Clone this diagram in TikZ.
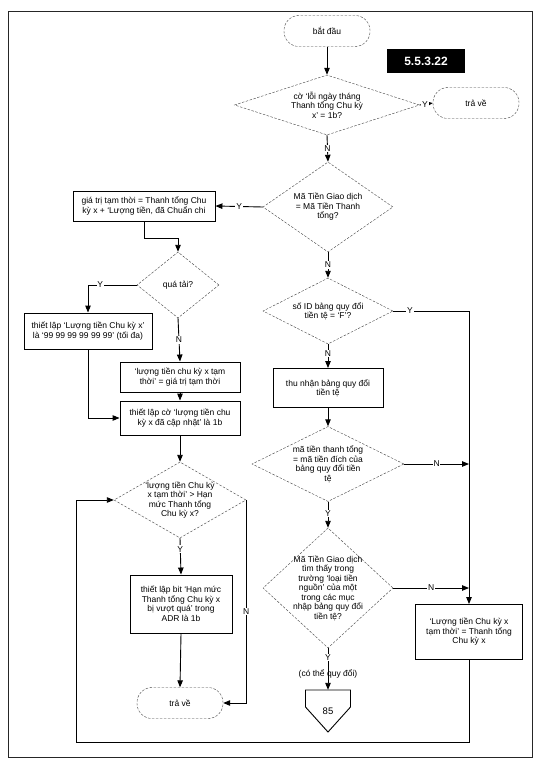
\documentclass[tikz,border=0pt]{standalone}
\usepackage{fontspec}
\setmainfont{Liberation Sans}
\usetikzlibrary{shapes.geometric,arrows.meta}

\tikzset{
  box/.style={draw,line width=0.9pt,rectangle,align=center,inner sep=1pt},
  decision/.style={draw=black!75,thin,dash pattern=on 2.5pt off 1.5pt,diamond,inner sep=0pt},
  dtext/.style={align=center,inner sep=0pt},
  term/.style={draw=black!75,thin,dash pattern=on 2.5pt off 1.5pt,rectangle,
    rounded corners=15pt,minimum width=86pt,minimum height=31pt},
  flow/.style={line width=0.9pt,-{Triangle[length=7pt,width=5.5pt]}},
  lbl/.style={fill=white,inner sep=0.8pt},
}

\begin{document}
\begin{tikzpicture}[x=1pt,y=-1pt,font=\fontsize{8.5}{9.5}\selectfont]
  \useasboundingbox (0,0) rectangle (541,762);
  \draw[line width=1pt,black!85] (8,12) rectangle (532,757);

  % middle column
  \node[term] (start) at (327,31) {bắt đầu};
  \node[fill=black,text=white,font=\bfseries\fontsize{12}{14}\selectfont,
    minimum width=78pt,minimum height=24pt] (tag) at (426,61) {5.5.3.22};
  \node[decision,minimum width=185pt,minimum height=60pt,
    label={[dtext]center:{cờ `lỗi ngày tháng\\Thanh tổng Chu kỳ\\x' = 1b?}}] (chk1) at (327,105) {};
  \node[term] (ret1) at (476,103) {trả về};
  \node[decision,minimum width=130pt,minimum height=90pt,
    label={[dtext]center:{Mã Tiền Giao dịch\\= Mã Tiền Thanh\\tổng?}}] (chk2) at (328,207) {};
  \node[decision,minimum width=130pt,minimum height=66pt,
    label={[dtext]center:{số ID bảng quy đổi\\tiền tệ = `F'?}}] (chkid) at (328,311) {};
  \node[box,minimum width=110pt,minimum height=39pt] (getconv) at (328,388)
    {thu nhận bảng quy đổi\\tiền tệ};
  \node[decision,minimum width=152pt,minimum height=75pt,
    label={[dtext]center:{mã tiền thanh tổng\\= mã tiền đích của\\bảng quy đổi tiền\\tệ}}] (chkdst) at (328,464) {};
  \node[decision,minimum width=130pt,minimum height=120pt,
    label={[dtext]center:{Mã Tiền Giao dịch\\tìm thấy trong\\trường `loại tiền\\nguồn' của một\\trong các mục\\nhập bảng quy đổi\\tiền tệ?}}] (chksrc) at (328,588) {};
  \node[minimum width=45pt,minimum height=42pt,inner sep=0pt] (conn85) at (328,711)
    {\fontsize{9.5}{11}\selectfont 85};
  \draw[line width=0.9pt] (305.5,690) -- (350.5,690) -- (350.5,707) -- (328,732) -- (305.5,707) -- cycle;

  % left column
  \node[box,minimum width=142pt,minimum height=30pt] (tmp) at (144,206)
    {giá trị tạm thời = Thanh tổng Chu\\kỳ x + `Lượng tiền, đã Chuẩn chi};
  \node[decision,minimum width=82pt,minimum height=66pt,
    label={[dtext]center:{quá tải?}}] (over) at (178,285) {};
  \node[box,minimum width=128pt,minimum height=36pt] (setmax) at (88,331)
    {thiết lập `Lượng tiền Chu kỳ x'\\là `99 99 99 99 99 99' (tối đa)};
  \node[box,minimum width=120pt,minimum height=30pt] (settmp) at (180,377)
    {`lượng tiền chu kỳ x tạm\\thời' = giá trị tạm thời};
  \node[box,minimum width=120pt,minimum height=34pt] (setflag) at (180,418)
    {thiết lập cờ `lượng tiền chu\\kỳ x đã cập nhật' là 1b};
  \node[decision,minimum width=132pt,minimum height=76pt,
    label={[dtext]center:{`lượng tiền Chu kỳ\\x tạm thời' > Hạn\\mức Thanh tổng\\Chu kỳ x?}}] (lim) at (180,500) {};
  \node[box,minimum width=102pt,minimum height=58pt] (setbit) at (181,604)
    {thiết lập bit `Hạn mức\\Thanh tổng Chu kỳ x\\bị vượt quá' trong\\ADR là 1b};
  \node[term] (ret2) at (180,703) {trả về};

  % right column
  \node[box,minimum width=107pt,minimum height=55pt] (setsum) at (469,632)
    {`Lượng tiền Chu kỳ x\\tạm thời' = Thanh tổng\\Chu kỳ x};

  \coordinate (j1) at (178,238);
  \coordinate (loopr) at (469,742);
  \coordinate (loopl) at (76,742);

  \foreach \a/\b in {start/chk1,getconv/chkdst,settmp/setflag,setflag/lim,setbit/ret2} {
    \draw[flow] (\a.south) -- (\b.north);
  }
  \draw[flow] (chk1.east) -- node[lbl,pos=0.4]{Y} (ret1.west);
  \draw[flow] (chk1.south) -- node[lbl]{N} (chk2.north);
  \draw[flow] (chk2.west) -- node[lbl]{Y} (tmp.east);
  \draw[flow] (chk2.south) -- node[lbl]{N} (chkid.north);
  \draw[flow] (chkid.south) -- node[lbl,pos=0.4]{N} (getconv.north);
  \draw[flow] (chkid.east) -- node[lbl,pos=0.22]{Y} (chkid.east -| setsum.north) -- (setsum.north);
  \draw[flow] (chkdst.east) -- node[lbl,pos=0.5]{N} (chkdst.east -| setsum.north);
  \draw[flow] (chkdst.south) -- node[lbl,pos=0.45]{Y} (chksrc.north);
  \draw[flow] (chksrc.east) -- node[lbl,pos=0.5]{N} (chksrc.east -| setsum.north);
  \draw[flow] (chksrc.south) -- node[lbl,pos=0.22]{Y} node[pos=0.62]{(có thể quy đổi)} (conn85.north);

  \draw[flow] (tmp.south) |- (j1) -- (over.north);
  \draw[flow] (over.west) -| node[lbl,pos=0.375]{Y} (setmax.north);
  \draw[flow] (over.south) -- node[lbl]{N} (settmp.north);
  \draw[flow] (setmax.south) |- (setflag.west);
  \draw[flow] (lim.south) -- node[lbl,pos=0.3]{Y} (setbit.north);
  \draw[flow] (lim.east) |- node[lbl,pos=0.275]{N} (ret2.east);
  \draw[flow] (setsum.south) -- (loopr) -- (loopl) |- (lim.west);
\end{tikzpicture}
\end{document}
